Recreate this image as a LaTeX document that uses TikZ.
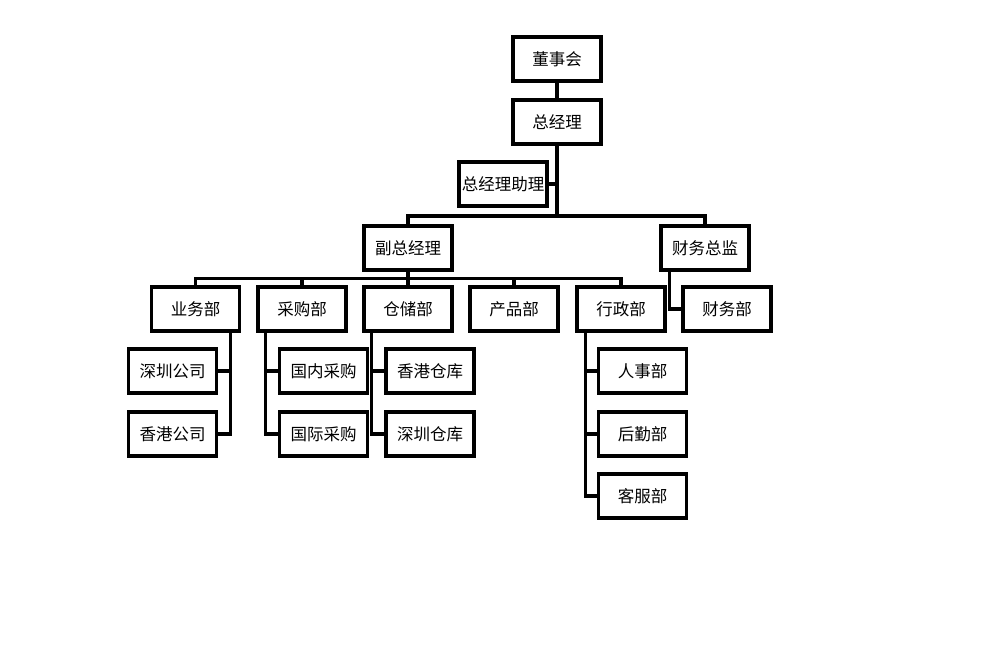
\documentclass[tikz,border=0pt]{standalone}
\usepackage{fontspec}
\usepackage{xcolor}
\usepackage{tikz}
\newfontfamily\cjk{Noto Sans CJK SC}
\definecolor{Ck}{RGB}{0,0,0}

\begin{document}
\begin{tikzpicture}[x=1pt,y=-1pt,
    orgbox/.style={draw=Ck,line width=3.2pt,minimum width=88pt,minimum height=44pt,
      inner sep=0pt,font=\cjk\fontsize{16.5}{18}\selectfont},
    link/.style={Ck,line width=3.2pt}]
    \useasboundingbox (0,0) rectangle (1000,670);
    % top of the chart
    \node[orgbox] (dsh) at (557,59) {董事会};
    \node[orgbox] (zjl) at (557,122) {总经理};
    \node[orgbox] (zjlzl) at (503,184) {总经理助理};
    \node[orgbox] (fzjl) at (408,248) {副总经理};
    \node[orgbox] (cwzj) at (705,248) {财务总监};
    % departments
    \node[orgbox] (ywb) at (195.5,309) {业务部};
    \node[orgbox] (cgb) at (302,309) {采购部};
    \node[orgbox] (ccb) at (408,309) {仓储部};
    \node[orgbox] (cpb) at (514,309) {产品部};
    \node[orgbox] (xzb) at (621,309) {行政部};
    \node[orgbox] (cwb) at (727,309) {财务部};
    % sub units
    \node[orgbox] (szgs) at (172.5,371) {深圳公司};
    \node[orgbox] (xggs) at (172.5,434) {香港公司};
    \node[orgbox] (gncg) at (323.5,371) {国内采购};
    \node[orgbox] (gjcg) at (323.5,434) {国际采购};
    \node[orgbox] (xgck) at (430,371) {香港仓库};
    \node[orgbox] (szck) at (430,434) {深圳仓库};
    \node[orgbox] (rsb) at (642.5,371) {人事部};
    \node[orgbox] (hqb) at (642.5,434) {后勤部};
    \node[orgbox] (kfb) at (642.5,496) {客服部};
    \coordinate (bus) at (557,216);

    \draw[link] (dsh) -- (zjl);
    \draw[link] (zjl.south) -- (bus);
    \draw[link] (zjlzl.east) -- (zjlzl.east -| bus);
    \draw[link] (fzjl.north) |- (bus) -| (cwzj.north);
    \foreach \d in {ywb,cgb,ccb,cpb,xzb}{
      \draw[link] (fzjl.south) -- ++(0,7) -| (\d.north);
    }
    \draw[link] ([xshift=10pt]cwzj.south west) |- (cwb.west);
    \foreach \s in {szgs,xggs}{
      \draw[link] ([xshift=-11pt]ywb.south east) |- (\s.east);
    }
    \foreach \s in {gncg,gjcg}{
      \draw[link] ([xshift=9pt]cgb.south west) |- (\s.west);
    }
    \foreach \s in {xgck,szck}{
      \draw[link] ([xshift=9pt]ccb.south west) |- (\s.west);
    }
    \foreach \s in {rsb,hqb,kfb}{
      \draw[link] ([xshift=10pt]xzb.south west) |- (\s.west);
    }
  \end{tikzpicture}
\end{document}
